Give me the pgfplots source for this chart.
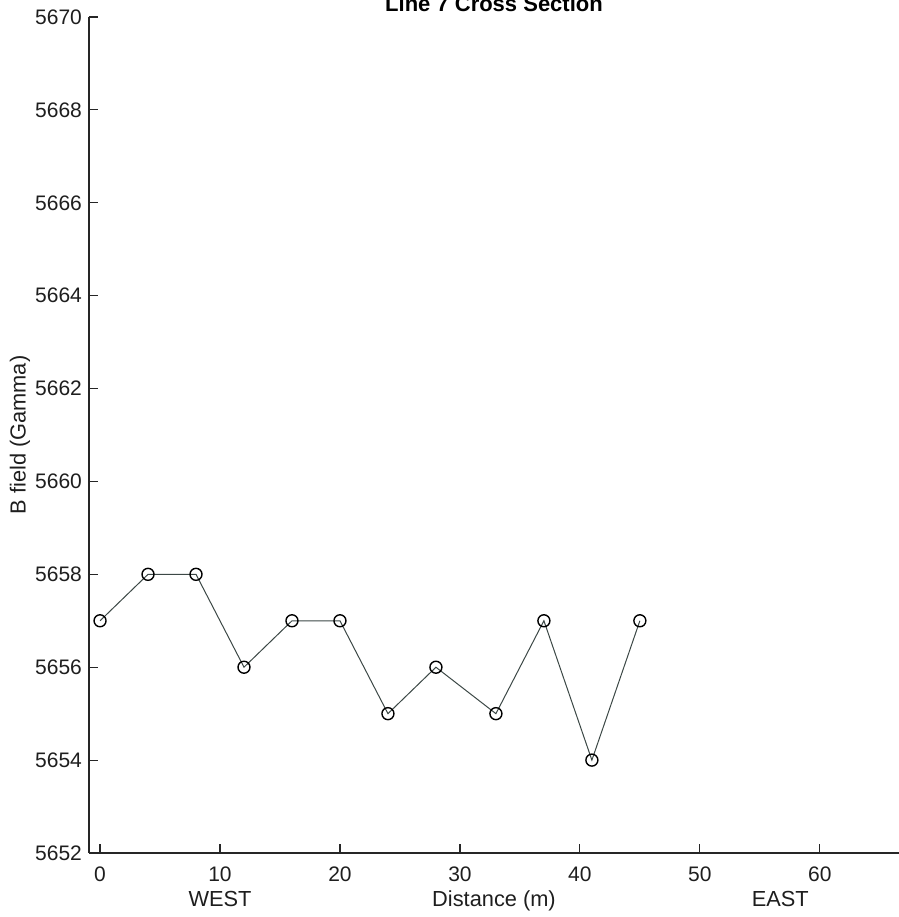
\documentclass[border=0pt]{standalone}
\usepackage{fontspec}
\setmainfont{Liberation Sans}
\usepackage{pgfplots}
\pgfplotsset{compat=1.18}
\definecolor{linec}{RGB}{60,72,70}
\definecolor{txt}{RGB}{30,30,30}
\begin{document}
\begin{tikzpicture}
\begin{axis}[
  name=ax,
  scale only axis,
  width=405pt, height=418pt,
  xmin=-0.92, xmax=66.6,
  ymin=5652, ymax=5670,
  axis x line*=bottom,
  axis y line*=left,
  every outer x axis line/.append style={-},
  every outer y axis line/.append style={-},
  axis line style={line width=0.6pt, black!85},
  xtick={0,10,20,30,40,50,60},
  ytick={5652,5654,...,5670},
  tick align=inside,
  major tick length=4.5pt,
  tick style={line width=0.6pt, black!85},
  /pgf/number format/assume math mode=true,
  /pgf/number format/set thousands separator={},
  tick label style={font=\fontsize{10.5}{12}\selectfont, text=txt},
  xticklabel style={anchor=base, yshift=-14.5pt},
  yticklabel style={anchor=east, xshift=0pt},
  xlabel={Distance (m)},
  xlabel style={at={(axis description cs:0.5,0)}, anchor=base, yshift=-27pt, font=\fontsize{10.9}{12}\selectfont, text=txt},
  ylabel={B field (Gamma)},
  ylabel style={at={(axis description cs:-0.0852,0.5)}, anchor=center, rotate=0, font=\fontsize{10.9}{12}\selectfont, text=txt},
  clip=false,
]
\addplot[color=linec, line width=0.5pt, mark=o, mark size=3pt,
  mark options={draw=black, line width=0.7pt, solid}]
  coordinates {
  (0,5657) (4,5658) (8,5658) (12,5656) (16,5657) (20,5657)
  (24,5655) (28,5656) (33,5655) (37,5657) (41,5654) (45,5657)
  };
\node[anchor=base, font=\fontsize{11}{13}\selectfont\bfseries, text=black] at (rel axis cs:0.5,1) [yshift=2.5pt] {Line 7 Cross Section};
\node[anchor=base, font=\fontsize{10.9}{12}\selectfont, text=txt] at (axis cs:10,5652) [yshift=-27pt] {WEST};
\node[anchor=base, font=\fontsize{10.9}{12}\selectfont, text=txt] at (axis cs:56.7,5652) [yshift=-27pt] {EAST};
\end{axis}
\pgfresetboundingbox
\path[use as bounding box] ([xshift=-44.5pt,yshift=-32pt]ax.south west) rectangle ([yshift=8.5pt]ax.north east);
\end{tikzpicture}
\end{document}
